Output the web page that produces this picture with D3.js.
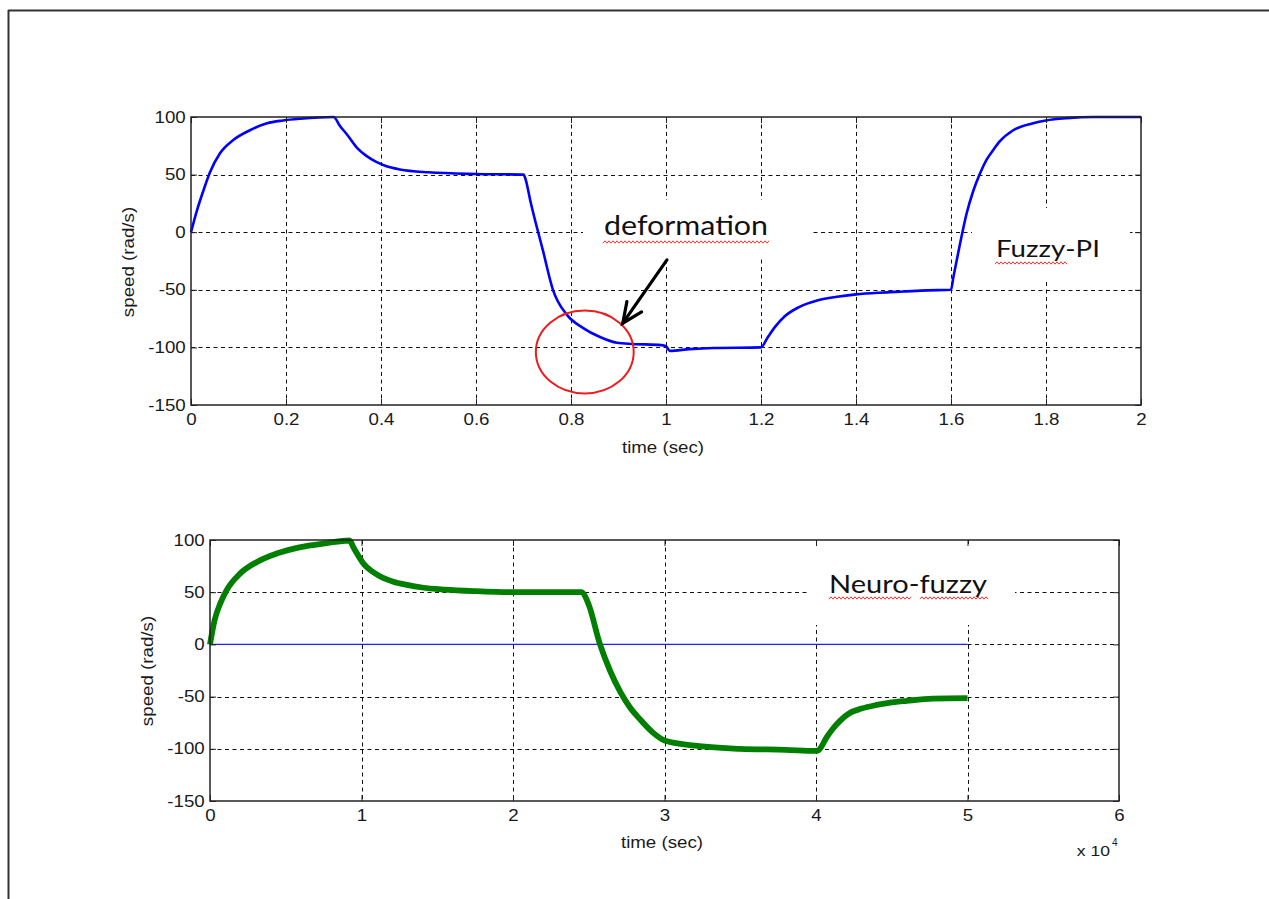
<!DOCTYPE html>
<html>
<head>
<meta charset="utf-8">
<script src="https://cdn.jsdelivr.net/npm/d3@7"></script>
<style>
  body { margin: 0; background: #fff; }
  svg { display: block; }
</style>
</head>
<body>
<svg id="fig" width="1269" height="899"></svg>
<script>
// ---- Fuzzy-PI speed response (time in s, speed in rad/s)
const fuzzyTime = [0, 0.0126, 0.026, 0.04, 0.061, 0.089, 0.124, 0.16, 0.194, 0.23, 0.3,
  0.314, 0.33, 0.35, 0.37, 0.39, 0.41, 0.44, 0.5, 0.6, 0.7,
  0.705, 0.714, 0.741, 0.762, 0.792, 0.825, 0.861, 0.897, 0.93, 0.99, 1.0, 1.008, 1.05, 1.1, 1.2,
  1.213, 1.23, 1.25, 1.28, 1.32, 1.36, 1.4, 1.45, 1.5, 1.55, 1.6,
  1.605, 1.619, 1.633, 1.647, 1.661, 1.675, 1.69, 1.703, 1.731, 1.773, 1.8, 1.844, 1.9, 2.0];
const fuzzySpeed = [0, 19, 36, 52, 68.5, 80, 88.5, 94.6, 97, 98.5, 100,
  92, 84, 73, 66, 61, 57.5, 54.5, 52, 50.5, 50,
  45, 28, -16, -50, -72, -83, -91, -96, -97, -98, -99, -103, -101.5, -100.5, -100,
  -92, -82, -73, -65, -59, -56, -54, -52.5, -51.5, -50.5, -50,
  -39, -10, 16.5, 36, 51, 63, 72, 79, 88.5, 94.6, 97, 99, 100, 100];

// ---- Neuro-fuzzy speed response (time in units of 10^4 samples)
const neuroTime = [0, 0.03, 0.07, 0.11, 0.2, 0.31, 0.44, 0.59, 0.77, 0.92,
  0.95, 1.01, 1.1, 1.21, 1.3, 1.4, 1.55, 1.75, 2.0, 2.45,
  2.5, 2.57, 2.64, 2.71, 2.77, 2.84, 2.92, 3.0, 3.2, 3.5, 3.8, 4.0,
  4.02, 4.07, 4.11, 4.16, 4.22, 4.3, 4.4, 4.5, 4.6, 4.77, 5.0];
const neuroSpeed = [0, 23, 40, 52, 68, 79, 87, 93, 97, 99.5,
  92, 78, 67, 60, 57, 54.5, 52.5, 51, 50, 50,
  38, 2, -25, -46, -60, -72, -84, -92, -97, -100, -101, -102,
  -101, -89, -81, -73, -66, -61.5, -58, -55.5, -54, -52, -51.5];

// ---- Reference line at zero in the lower panel
const refTime = [0, 5];
const refSpeed = [0, 0];

// ---- Tick values and labels
const yTicks = [-150, -100, -50, 0, 50, 100];
const yTickLabels = ["-150", "-100", "-50", "0", "50", "100"];
const topXTicks = [0, 0.2, 0.4, 0.6, 0.8, 1, 1.2, 1.4, 1.6, 1.8, 2];
const topXTickLabels = ["0", "0.2", "0.4", "0.6", "0.8", "1", "1.2", "1.4", "1.6", "1.8", "2"];
const bottomXTicks = [0, 1, 2, 3, 4, 5, 6];
const bottomXTickLabels = ["0", "1", "2", "3", "4", "5", "6"];

const svg = d3.select("#fig");
const FONT = "'Liberation Sans', Arial, sans-serif";
const NOTE_FONT = "Lato, 'Open Sans', sans-serif";
const STRETCH = "scale(1.17,1)";

// page frame
svg.append("line").attr("x1", 8).attr("y1", 10.5).attr("x2", 1269).attr("y2", 10.5)
  .attr("stroke", "#333").attr("stroke-width", 2);
svg.append("line").attr("x1", 8.5).attr("y1", 10).attr("x2", 8.5).attr("y2", 899)
  .attr("stroke", "#333").attr("stroke-width", 2);

function wavy(g, x0, x1, yy) {
  const pts = [];
  for (let xx = x0, k = 0; xx <= x1; xx += 2, k++) pts.push([xx, yy + (k % 2 ? -1.2 : 1.2)]);
  g.append("path").attr("d", d3.line()(pts)).attr("fill", "none")
    .attr("stroke", "#f03030").attr("stroke-width", 1);
}

function drawPanel(cfg) {
  const g = svg.append("g");
  const x = d3.scaleLinear().domain(cfg.xDomain).range([cfg.left, cfg.right]);
  const y = d3.scaleLinear().domain([-150, 100]).range([cfg.bottom, cfg.top]);

  // dashed grid
  const grid = g.append("g").attr("stroke", "#111").attr("stroke-width", 1)
    .attr("stroke-dasharray", "4,3.5");
  grid.selectAll(".gx").data(cfg.xTicks.slice(1, -1)).join("line")
    .attr("x1", d => Math.round(x(d)) + 0.5).attr("x2", d => Math.round(x(d)) + 0.5)
    .attr("y1", cfg.top).attr("y2", cfg.bottom);
  grid.selectAll(".gy").data(yTicks.slice(1, -1)).join("line")
    .attr("y1", d => Math.round(y(d)) + 0.5).attr("y2", d => Math.round(y(d)) + 0.5)
    .attr("x1", cfg.left).attr("x2", cfg.right);

  // text boxes over the grid
  cfg.boxes.forEach(b => g.append("rect").attr("x", b[0]).attr("y", b[1])
    .attr("width", b[2] - b[0]).attr("height", b[3] - b[1]).attr("fill", "#fff"));

  // data lines
  const line = d3.line().x(d => x(d[0])).y(d => y(d[1])).curve(d3.curveMonotoneX);
  cfg.series.forEach(s => {
    g.append("path").datum(d3.zip(s.t, s.v)).attr("d", line)
      .attr("fill", "none").attr("stroke", s.color).attr("stroke-width", s.width)
      .attr("stroke-linejoin", "round").attr("stroke-linecap", "butt");
  });

  // axes with inward ticks
  const fmtX = (d, i) => cfg.xLabels[i];
  const fmtY = (d, i) => yTickLabels[i];
  const axB = g.append("g").attr("transform", `translate(0,${cfg.bottom})`)
    .call(d3.axisBottom(x).tickValues(cfg.xTicks).tickFormat(fmtX)
      .tickSizeInner(-6).tickSizeOuter(0).tickPadding(cfg.xPad));
  const axL = g.append("g").attr("transform", `translate(${cfg.left},0)`)
    .call(d3.axisLeft(y).tickValues(yTicks).tickFormat(fmtY)
      .tickSizeInner(-6).tickSizeOuter(0).tickPadding(4.5));
  const axT = g.append("g").attr("transform", `translate(0,${cfg.top})`)
    .call(d3.axisTop(x).tickValues(cfg.xTicks).tickFormat("").tickSizeInner(-6).tickSizeOuter(0));
  const axR = g.append("g").attr("transform", `translate(${cfg.right},0)`)
    .call(d3.axisRight(y).tickValues(yTicks).tickFormat("").tickSizeInner(-6).tickSizeOuter(0));
  [axB, axL, axT, axR].forEach(a => {
    a.select(".domain").remove();
    a.selectAll("line").attr("stroke", "#222");
    a.selectAll("text").attr("font-family", FONT).attr("font-size", 16)
      .attr("fill", "#1a1a1a").attr("transform", STRETCH);
  });

  // frame
  g.append("rect").attr("x", cfg.left).attr("y", cfg.top)
    .attr("width", cfg.right - cfg.left).attr("height", cfg.bottom - cfg.top)
    .attr("fill", "none").attr("stroke", "#222").attr("stroke-width", 1.5);

  // axis titles
  g.append("text").attr("font-family", FONT).attr("font-size", 16).attr("fill", "#1a1a1a")
    .attr("text-anchor", "middle")
    .attr("transform", `translate(${cfg.xTitle[0]},${cfg.xTitle[1]}) ${STRETCH}`)
    .text("time (sec)");
  g.append("text").attr("font-family", FONT).attr("font-size", 16).attr("fill", "#1a1a1a")
    .attr("text-anchor", "middle")
    .attr("transform", `translate(${cfg.yTitle[0]},${cfg.yTitle[1]}) rotate(-90) ${STRETCH}`)
    .text("speed (rad/s)");

  return { g, x, y };
}

// ---- upper panel: Fuzzy-PI
const upperPanel = drawPanel({
  left: 191, right: 1141, top: 117, bottom: 405,
  xDomain: [0, 2], xTicks: topXTicks, xLabels: topXTickLabels, xPad: 9,
  xTitle: [663, 453], yTitle: [134, 262],
  boxes: [[583, 200, 812, 257], [972, 208, 1130, 280]],
  series: [{ t: fuzzyTime, v: fuzzySpeed, color: "#0000ff", width: 2.6 }]
});

// annotation: deformation region
{
  const P = upperPanel;
  P.g.append("ellipse")
    .attr("cx", P.x(0.829)).attr("cy", P.y(-104))
    .attr("rx", P.x(0.103) - P.x(0)).attr("ry", P.y(-36) - P.y(0))
    .attr("fill", "none").attr("stroke", "#ee1c1c").attr("stroke-width", 2);
  const tail = [P.x(1.002), P.y(-24)];
  const tip = [P.x(0.909), P.y(-79)];
  const ang = Math.atan2(tip[1] - tail[1], tip[0] - tail[0]);
  const head = 22, spread = 0.42;
  const h1 = [tip[0] - head * Math.cos(ang - spread), tip[1] - head * Math.sin(ang - spread)];
  const h2 = [tip[0] - head * Math.cos(ang + spread), tip[1] - head * Math.sin(ang + spread)];
  const arrow = P.g.append("g").attr("stroke", "#000").attr("stroke-width", 3.2)
    .attr("fill", "none").attr("stroke-linecap", "round");
  arrow.append("path").attr("d", d3.line()([tail, tip]));
  arrow.append("path").attr("d", d3.line()([h1, tip, h2])).attr("stroke-linejoin", "miter");

  P.g.append("text").attr("x", 604).attr("y", 235).attr("font-family", NOTE_FONT)
    .attr("font-size", 26).attr("fill", "#111").attr("textLength", 164)
    .attr("lengthAdjust", "spacingAndGlyphs").text("deformation");
  wavy(P.g, 603, 770, 242);
  P.g.append("text").attr("x", 996).attr("y", 257).attr("font-family", NOTE_FONT)
    .attr("font-size", 24).attr("fill", "#111").attr("textLength", 104)
    .attr("lengthAdjust", "spacingAndGlyphs").text("Fuzzy-PI");
  wavy(P.g, 995, 1067, 263);
}

// ---- lower panel: Neuro-fuzzy
const lowerPanel = drawPanel({
  left: 210, right: 1119, top: 540, bottom: 801,
  xDomain: [0, 6], xTicks: bottomXTicks, xLabels: bottomXTickLabels, xPad: 9,
  xTitle: [662, 848], yTitle: [153, 671],
  boxes: [[808, 546, 1015, 625]],
  series: [
    { t: refTime, v: refSpeed, color: "#1f1fff", width: 1.2 },
    { t: neuroTime, v: neuroSpeed, color: "#007f00", width: 5.8 }
  ]
});
{
  const P = lowerPanel;
  P.g.append("text").attr("x", 829).attr("y", 593).attr("font-family", NOTE_FONT)
    .attr("font-size", 25).attr("fill", "#111").attr("textLength", 158)
    .attr("lengthAdjust", "spacingAndGlyphs").text("Neuro-fuzzy");
  wavy(P.g, 829, 912, 598);
  wavy(P.g, 920, 989, 598);

  // exponent label of the lower time axis
  P.g.append("text").attr("font-family", FONT).attr("font-size", 15)
    .attr("fill", "#1a1a1a").attr("text-anchor", "end")
    .attr("transform", `translate(1110,856) ${STRETCH}`).text("x 10");
  P.g.append("text").attr("font-family", FONT).attr("font-size", 10)
    .attr("fill", "#1a1a1a").attr("x", 1112).attr("y", 846).text("4");
}
</script>
</body>
</html>
